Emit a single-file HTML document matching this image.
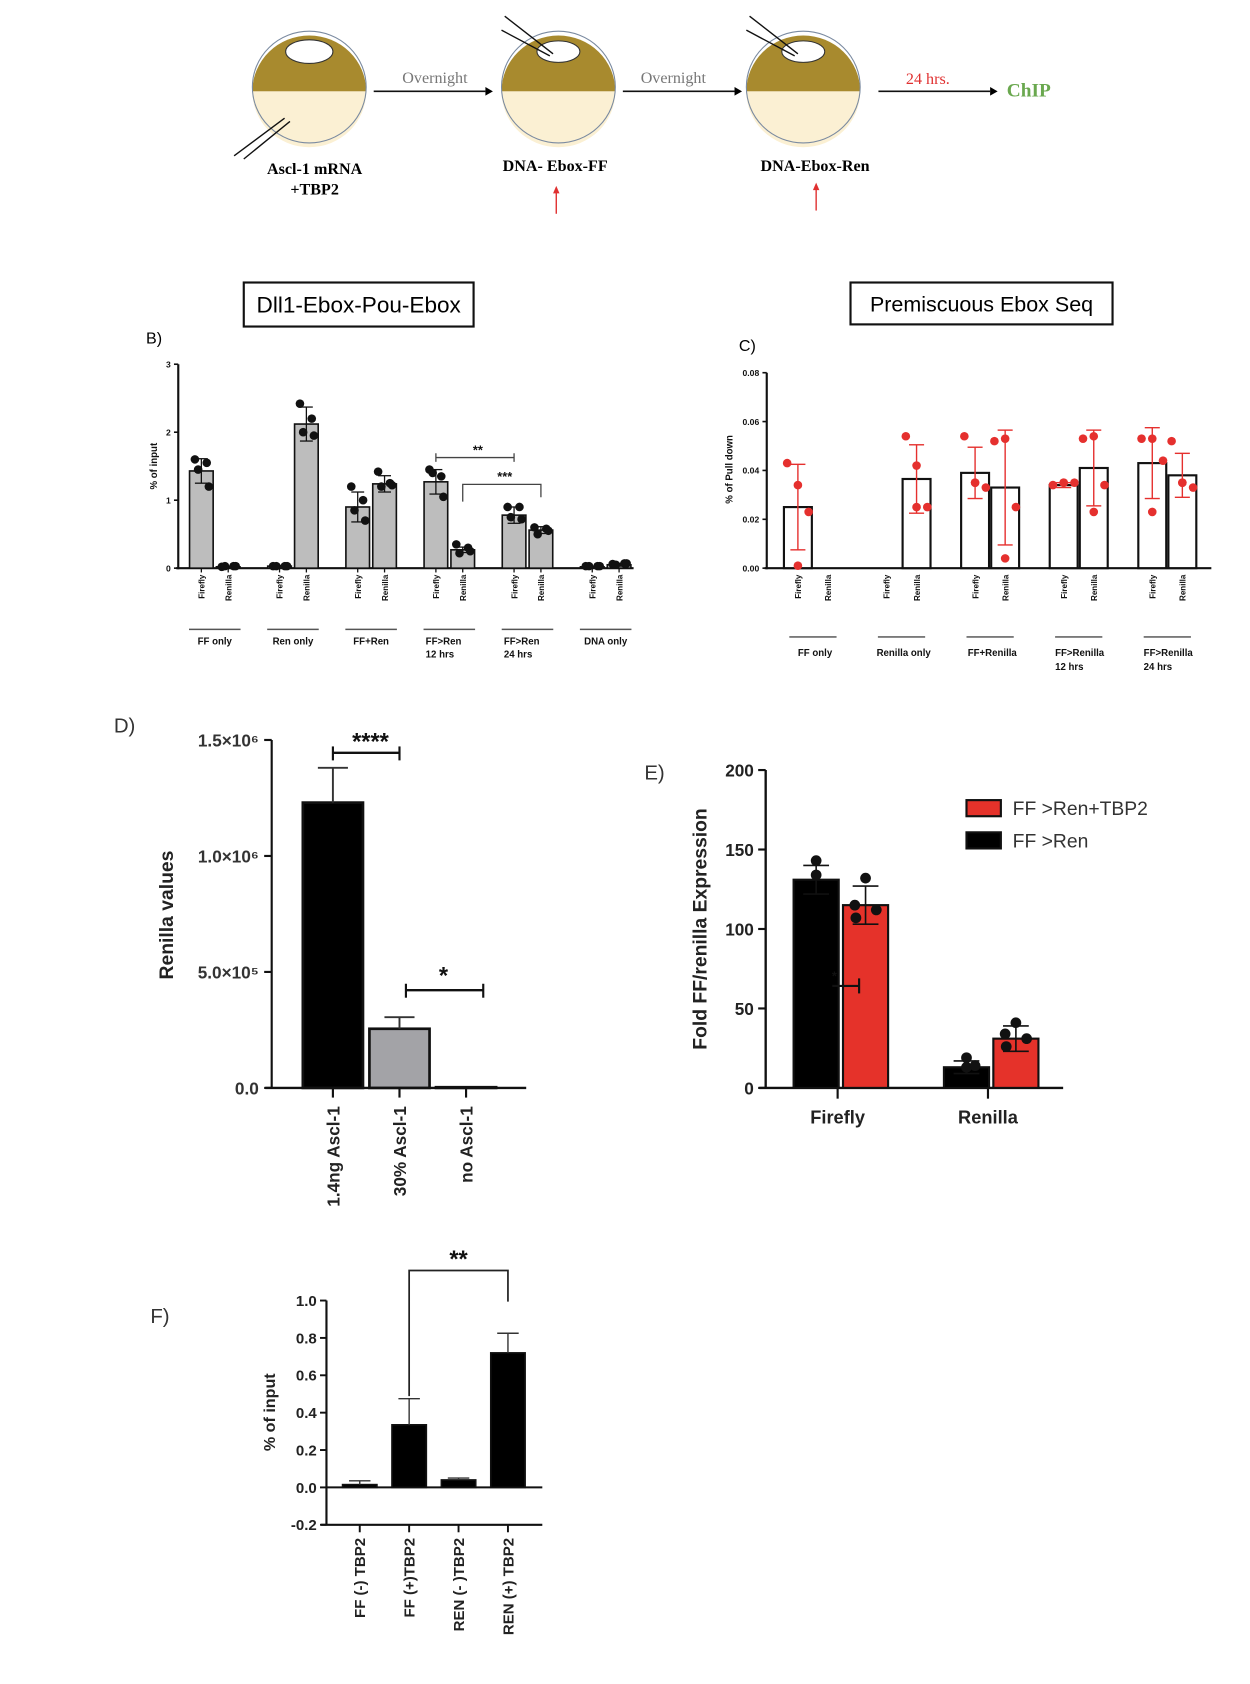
<!DOCTYPE html>
<html><head><meta charset="utf-8"><style>
html,body{margin:0;padding:0;background:#fff;}
svg{display:block;font-family:"Liberation Sans",sans-serif;}
</style></head><body>
<svg id="s" width="1250" height="1684" viewBox="0 0 1164 1568" xmlns="http://www.w3.org/2000/svg">
<g>
 <g>
  <path d="M235,85 A53,52 0 0 1 341,85 Z" fill="#a88a2e"/><path d="M235,85 A53,52 0 0 0 341,85 Z" fill="#fbf0d3"/>
  <ellipse cx="288" cy="81" rx="53" ry="52" fill="none" stroke="#7a8aa0" stroke-width="1"/>
  <ellipse cx="288" cy="48" rx="22" ry="11" fill="#fff" stroke="#333"/>
  <line x1="218" y1="145" x2="265" y2="110" stroke="#111" stroke-width="1.3"/><line x1="227" y1="148" x2="270" y2="113" stroke="#111" stroke-width="1.3"/>
 </g>
 <g>
  <path d="M467,85 A53,52 0 0 1 573,85 Z" fill="#a88a2e"/><path d="M467,85 A53,52 0 0 0 573,85 Z" fill="#fbf0d3"/>
  <ellipse cx="520" cy="81" rx="53" ry="52" fill="none" stroke="#7a8aa0"/>
  <ellipse cx="520" cy="48" rx="20" ry="10" fill="#fff" stroke="#333"/>
  <line x1="470" y1="15" x2="515" y2="50" stroke="#111" stroke-width="1.3"/><line x1="467" y1="28" x2="512" y2="52" stroke="#111" stroke-width="1.3"/>
 </g>
 <g>
  <path d="M695,85 A53,52 0 0 1 801,85 Z" fill="#a88a2e"/><path d="M695,85 A53,52 0 0 0 801,85 Z" fill="#fbf0d3"/>
  <ellipse cx="748" cy="81" rx="53" ry="52" fill="none" stroke="#7a8aa0"/>
  <ellipse cx="748" cy="48" rx="20" ry="10" fill="#fff" stroke="#333"/>
  <line x1="698" y1="15" x2="743" y2="50" stroke="#111" stroke-width="1.3"/><line x1="695" y1="28" x2="740" y2="52" stroke="#111" stroke-width="1.3"/>
 </g>
 <g font-family="Liberation Serif,serif">
  <line x1="348" y1="85" x2="452" y2="85" stroke="#111" stroke-width="1.5"/><path d="M452,81 L459,85 L452,89Z"/>
  <text x="405" y="77" text-anchor="middle" font-size="15" fill="#777">Overnight</text>
  <line x1="580" y1="85" x2="684" y2="85" stroke="#111" stroke-width="1.5"/><path d="M684,81 L691,85 L684,89Z"/>
  <text x="627" y="77" text-anchor="middle" font-size="15" fill="#777">Overnight</text>
  <line x1="818" y1="85" x2="922" y2="85" stroke="#111" stroke-width="1.5"/><path d="M922,81 L929,85 L922,89Z"/>
  <text x="864" y="78" text-anchor="middle" font-size="15" fill="#e03030">24 hrs.</text>
  <text x="958" y="90" text-anchor="middle" font-size="18" font-weight="bold" fill="#6aa84f">ChIP</text>
  <text x="293" y="162" text-anchor="middle" font-size="15" font-weight="bold">Ascl-1 mRNA</text>
  <text x="293" y="181" text-anchor="middle" font-size="15" font-weight="bold">+TBP2</text>
  <text x="517" y="159" text-anchor="middle" font-size="15" font-weight="bold">DNA- Ebox-FF</text>
  <text x="759" y="159" text-anchor="middle" font-size="15" font-weight="bold">DNA-Ebox-Ren</text>
  <line x1="518" y1="199" x2="518" y2="178" stroke="#e03030" stroke-width="1.3"/><path d="M515,180 L518,173 L521,180Z" fill="#e03030"/>
  <line x1="760" y1="196" x2="760" y2="175" stroke="#e03030" stroke-width="1.3"/><path d="M757,177 L760,170 L763,177Z" fill="#e03030"/>
 </g>
</g>
<rect x="227" y="263" width="214" height="41" fill="#fff" stroke="#111" stroke-width="2"/>
<text x="334" y="291" text-anchor="middle" font-size="21">Dll1-Ebox-Pou-Ebox</text>
<text x="136" y="320" font-size="15">B)</text>
<rect x="792" y="263" width="244" height="39" fill="#fff" stroke="#111" stroke-width="2"/>
<text x="914" y="290" text-anchor="middle" font-size="20">Premiscuous Ebox Seq</text>
<text x="688" y="327" font-size="15">C)</text>
<text x="106" y="682" font-size="19" fill="#333">D)</text>
<text x="600" y="726" font-size="19" fill="#333">E)</text>
<text x="140" y="1232" font-size="19" fill="#333">F)</text>
<g id="gb"></g>
<g id="gc"></g>
<g id="gd"></g>
<g id="ge"></g>
<g id="gf"></g>
</svg>
<script>
// ---- Chart B data ----
const bGroups = ["FF only","Ren only","FF+Ren","FF>Ren|12 hrs","FF>Ren|24 hrs","DNA only"];
const bFirefly = [1.43,0.03,0.90,1.27,0.78,0.02];
const bRenilla = [0.02,2.12,1.24,0.27,0.56,0.05];
const bFireflyErr = [0.18,0.01,0.22,0.18,0.12,0.01];
const bRenillaErr = [0.01,0.25,0.12,0.04,0.05,0.02];
const bFireflyDots = [[1.6,1.55,1.45,1.2],[0.03,0.03,0.03,0.03],[1.2,1.0,0.85,0.7],[1.45,1.35,1.4,1.05],[0.9,0.9,0.75,0.72],[0.03,0.03,0.03,0.03]];
const bRenillaDots = [[0.02,0.03,0.03,0.03],[2.42,2.2,2.0,1.95],[1.42,1.25,1.2,1.22],[0.35,0.3,0.22,0.25],[0.6,0.58,0.5,0.55],[0.06,0.07,0.05,0.07]];
const bTicks = [0,1,2,3];
// ---- Chart C data ----
const cGroups = ["FF only","Renilla only","FF+Renilla","FF>Renilla|12 hrs","FF>Renilla|24 hrs"];
const cFirefly = [0.025,null,0.039,0.034,0.043];
const cRenilla = [null,0.0365,0.033,0.041,0.038];
const cFireflyErr = [0.0175,0,0.0105,0.001,0.0145];
const cRenillaErr = [0,0.014,0.0235,0.0155,0.009];
const cFireflyDots = [[0.043,0.034,0.023,0.001],[],[0.054,0.035,0.033,0.035],[0.034,0.035,0.035,0.035],[0.053,0.053,0.044,0.023]];
const cRenillaDots = [[],[0.054,0.042,0.025,0.025],[0.052,0.053,0.025,0.004],[0.053,0.054,0.034,0.023],[0.052,0.035,0.033,0.035]];
const cTicks = [0,0.02,0.04,0.06,0.08];
// ---- Chart D data ----
const dCats = ["1.4ng Ascl-1","30% Ascl-1","no Ascl-1"];
const dVals = [1.23e6,0.255e6,0.003e6];
const dErr = [0.15e6,0.05e6,0];
const dTicks = [0,0.5e6,1.0e6,1.5e6];
const dTickLabels = ["0.0","5.0×10⁵","1.0×10⁶","1.5×10⁶"];
// ---- Chart E data ----
const eCats = ["Firefly","Renilla"];
const eFFRen = [131,13];
const eFFRenTBP2 = [115,31];
const eFFRenErr = [9,4];
const eTBP2Err = [12,8];
const eFFRenDots = [[143,134],[19,13,14]];
const eTBP2Dots = [[132,115,107,112],[41,34,26,31]];
const eTicks = [0,50,100,150,200];
// ---- Chart F data ----
const fCats = ["FF (-) TBP2","FF (+)TBP2","REN (- )TBP2","REN (+) TBP2"];
const fVals = [0.015,0.335,0.04,0.72];
const fErr = [0.02,0.14,0.01,0.105];
const fTicks = [-0.2,0,0.2,0.4,0.6,0.8,1.0];

const NS="http://www.w3.org/2000/svg";
function mk(parent,tag,attrs,txt){const e=document.createElementNS(NS,tag);for(const k in attrs)e.setAttribute(k,attrs[k]);if(txt!==undefined)e.textContent=txt;parent.appendChild(e);return e;}
function txt(p,x,y,s,size,opts){opts=opts||{};const e=mk(p,'text',{x:x,y:y,'font-size':size,'text-anchor':opts.anchor||'middle','font-weight':opts.bold?'bold':'normal',fill:opts.fill||'#111'},s);if(opts.rot!==undefined)e.setAttribute('transform','rotate('+opts.rot+' '+x+' '+y+')');return e;}
function line(p,x1,y1,x2,y2,w,c){return mk(p,'line',{x1:x1,y1:y1,x2:x2,y2:y2,stroke:c||'#111','stroke-width':w||1.5});}

// ===== B =====
(function(){
 const g=document.getElementById('gb');
 const X0=166,Y0=529,ppu=63.3,y=v=>Y0-v*ppu;
 const gx=i=>200+i*72.8;
 line(g,X0,y(3),X0,Y0+1,2);line(g,X0-2,Y0,590,Y0,2);
 bTicks.forEach(t=>{line(g,X0-4,y(t),X0,y(t),1.5);const e=txt(g,X0-7,y(t)+3,String(t),8,{anchor:'end',bold:true});});
 const yl=txt(g,146,434,'% of input',9,{bold:true,rot:-90});
 
 
 bGroups.forEach((name,i)=>{
  [[bFirefly,bFireflyErr,bFireflyDots,-12.5,'Firefly'],[bRenilla,bRenillaErr,bRenillaDots,12.5,'Renilla']].forEach(([vals,errs,dots,off,lab])=>{
   const cx=gx(i)+off,v=vals[i];
   const r=mk(g,'rect',{x:cx-11,y:y(v),width:22,height:Y0-y(v),fill:'#bdbdbd',stroke:'#111','stroke-width':1.5});
   
   
   line(g,cx,y(v+errs[i]),cx,y(v-errs[i]),1.2);line(g,cx-6,y(v+errs[i]),cx+6,y(v+errs[i]),1.2);line(g,cx-6,y(v-errs[i]),cx+6,y(v-errs[i]),1.2);
   const offs=[-6,5,-3,7];
   dots[i].forEach((d,k)=>{const c=mk(g,'circle',{cx:cx+offs[k],cy:y(d),r:4,fill:'#111'});});
   line(g,cx,Y0,cx,Y0+4,1.2);
   txt(g,cx+3,535,lab,7.5,{anchor:'end',bold:true,rot:-90});
  });
  line(g,gx(i)-24,586,gx(i)+24,586,1.5,'#555');
  const parts=name.split('|');
  parts.forEach((p,k)=>{const e=txt(g,gx(i)-(parts.length>1?22:0),600+k*12,p,9,{bold:true,anchor:parts.length>1?'start':'middle'});});
 });
 // significance
 line(g,gx(3)-12.5,426,gx(4)-12.5,426,1.2,'#444');line(g,gx(3)-12.5,422,gx(3)-12.5,430,1.2,'#444');line(g,gx(4)-12.5,422,gx(4)-12.5,430,1.2,'#444');
 txt(g,445,423,'**',12,{bold:true});
 mk(g,'polyline',{points:(gx(3)+12.5)+',467 '+(gx(3)+12.5)+',451 '+(gx(4)+12.5)+',451 '+(gx(4)+12.5)+',463',fill:'none',stroke:'#444','stroke-width':1.2});
 txt(g,470,448,'***',12,{bold:true});
})();

// ===== C =====
(function(){
 const g=document.getElementById('gc');
 const X0=714,Y0=529,ppu=45.5/0.02,y=v=>Y0-v*ppu;
 const gx=i=>757+i*82.5;
 line(g,X0,y(0.08),X0,Y0+1,2);line(g,X0-2,Y0,1128,Y0,2);
 cTicks.forEach(t=>{line(g,X0-4,y(t),X0,y(t),1.5);const e=txt(g,X0-7,y(t)+3,t.toFixed(2),8,{anchor:'end',bold:true});});
 const yl=txt(g,682,437,'% of Pull down',9,{bold:true,rot:-90});
 
 
 cGroups.forEach((name,i)=>{
  [[cFirefly,cFireflyErr,cFireflyDots,-14,'Firefly'],[cRenilla,cRenillaErr,cRenillaDots,14,'Renilla']].forEach(([vals,errs,dots,off,lab])=>{
   const cx=gx(i)+off,v=vals[i];
   if(v!==null){
    const r=mk(g,'rect',{x:cx-13,y:y(v),width:26,height:Y0-y(v),fill:'#fff',stroke:'#111','stroke-width':2});
    
    
    const red='#e5302e';
    line(g,cx,y(v+errs[i]),cx,y(v-errs[i]),1.3,red);line(g,cx-7,y(v+errs[i]),cx+7,y(v+errs[i]),1.3,red);line(g,cx-7,y(v-errs[i]),cx+7,y(v-errs[i]),1.3,red);
   }
   const offs=[-10,0,10,0];
   dots[i].forEach((d,k)=>{const c=mk(g,'circle',{cx:cx+(k==1?0:offs[k]),cy:y(d),r:4,fill:'#e5302e'});});
   txt(g,cx+3,535,lab,7.5,{anchor:'end',bold:true,rot:-90});
  });
  line(g,gx(i)-22,593,gx(i)+22,593,1.5,'#666');
  const parts=name.split('|');
  parts.forEach((p,k)=>{const e=txt(g,gx(i)-(parts.length>1?22:-2),611+k*13,p,9,{bold:true,anchor:parts.length>1?'start':'middle'});});
 });
})();

// ===== D =====
(function(){
 const g=document.getElementById('gd');
 const X0=253,Y0=1013,ppu=(1013-689)/1.5e6,y=v=>Y0-v*ppu;
 const gx=i=>310+i*62;
 line(g,X0,y(1.5e6),X0,Y0,2);line(g,X0-6,Y0,490,Y0,2.2);
 dTicks.forEach((t,k)=>{line(g,X0-7,y(t),X0,y(t),2);const e=txt(g,X0-12,y(t)+6,dTickLabels[k],16,{anchor:'end',bold:true,fill:'#333'});});
 const yl=txt(g,161,852,'Renilla values',18,{bold:true,rot:-90,fill:'#222'});
 
 
 const fills=['#000','#a3a3a7','#fff'];
 dCats.forEach((c,i)=>{
  const cx=gx(i),v=dVals[i];
  const r=mk(g,'rect',{x:cx-28,y:y(v),width:56,height:Y0-y(v),fill:fills[i],stroke:'#111','stroke-width':2.5});
  
  
  if(dErr[i]>0){line(g,cx,y(v),cx,y(v+dErr[i]),1.8,'#333');line(g,cx-14,y(v+dErr[i]),cx+14,y(v+dErr[i]),1.8,'#333');}
  line(g,cx,Y0,cx,Y0+9,2);
  const e=txt(g,cx+6,1030,c,16,{anchor:'end',bold:true,rot:-90,fill:'#222'});
  
  
 });
 line(g,gx(0),701,gx(1),701,2.2);line(g,gx(0),695,gx(0),708,2);line(g,gx(1),695,gx(1),708,2);
 txt(g,(gx(0)+gx(1))/2+4,698,'****',22,{bold:true});
 line(g,gx(1)+6,922,gx(2)+16,922,2.2);line(g,gx(1)+6,916,gx(1)+6,929,2);line(g,gx(2)+16,916,gx(2)+16,929,2);
 txt(g,413,916,'*',22,{bold:true});
})();

// ===== E =====
(function(){
 const g=document.getElementById('ge');
 const X0=713,Y0=1013,ppu=(1013-717)/200,y=v=>Y0-v*ppu;
 const gx=i=>783+i*140;
 line(g,X0,y(200),X0,Y0,2.2);line(g,X0-6,Y0,990,Y0,2.2);
 eTicks.forEach(t=>{line(g,X0-7,y(t),X0,y(t),2);const e=txt(g,X0-11,y(t)+6,String(t),16,{anchor:'end',bold:true,fill:'#222'});});
 const yl=txt(g,658,865,'Fold FF/renilla Expression',18,{bold:true,rot:-90,fill:'#222'});
 
 
 eCats.forEach((c,i)=>{
  [[eFFRen,eFFRenErr,eFFRenDots,-23,'#000'],[eFFRenTBP2,eTBP2Err,eTBP2Dots,23,'#e5322a']].forEach(([vals,errs,dots,off,col])=>{
   const cx=gx(i)+off,v=vals[i];
   const r=mk(g,'rect',{x:cx-21,y:y(v),width:42,height:Y0-y(v),fill:col,stroke:'#111','stroke-width':2});
   
   
   line(g,cx,y(v+errs[i]),cx,y(v-errs[i]),1.5);line(g,cx-12,y(v+errs[i]),cx+12,y(v+errs[i]),1.5);line(g,cx-12,y(v-errs[i]),cx+12,y(v-errs[i]),1.5);
   const offs=[0,0,-10,10];
   dots[i].forEach((d,k)=>{const cc=mk(g,'circle',{cx:cx+(dots[i].length===4?[0,-10,-9,10][k]:[0,0,8][k]),cy:y(d),r:5,fill:'#111'});});
  });
  line(g,gx(i)-3,Y0,gx(i)-3,Y0+10,2);
  const e=txt(g,gx(i)-3,1046,c,17,{bold:true,fill:'#222'});
  
  
 });
 line(g,775,918,800,918,2);line(g,800,911,800,925,2);txt(g,777,913,'*',12,{bold:true});
 const l1=mk(g,'rect',{x:900,y:745,width:32,height:15,fill:'#e5322a',stroke:'#111','stroke-width':2});
 
 
 const t1=txt(g,943,759,'FF >Ren+TBP2',18,{anchor:'start',fill:'#333'});
 
 
 const l2=mk(g,'rect',{x:900,y:775,width:32,height:15,fill:'#000',stroke:'#111','stroke-width':2});
 
 
 const t2=txt(g,943,789,'FF >Ren',18,{anchor:'start',fill:'#333'});
 
 
})();

// ===== F =====
(function(){
 const g=document.getElementById('gf');
 const X0=304,Y0=1385,ppu=174,y=v=>Y0-v*ppu;
 const gx=i=>335+i*46;
 line(g,X0,y(1.0),X0,y(-0.2),2);line(g,X0-5,y(-0.2),505,y(-0.2),2);line(g,X0,Y0,505,Y0,1.8);
 fTicks.forEach(t=>{line(g,X0-6,y(t),X0,y(t),1.8);const e=txt(g,X0-9,y(t)+5,t.toFixed(1),14,{anchor:'end',bold:true,fill:'#222'});});
 const yl=txt(g,256,1315,'% of input',15,{bold:true,rot:-90,fill:'#222'});
 
 
 fCats.forEach((c,i)=>{
  const cx=gx(i),v=fVals[i];
  const r=mk(g,'rect',{x:cx-16,y:y(v),width:32,height:Y0-y(v),fill:'#000',stroke:'#111','stroke-width':1.5});
  
  
  line(g,cx,y(v),cx,y(v+fErr[i]),1.3,'#333');line(g,cx-10,y(v+fErr[i]),cx+10,y(v+fErr[i]),1.3,'#333');
  line(g,cx,y(-0.2),cx,y(-0.2)+7,1.8);
  const e=txt(g,cx+5,1432,c,14,{anchor:'end',bold:true,rot:-90,fill:'#222'});
  
  
 });
 mk(g,'polyline',{points:gx(1)+',1300 '+gx(1)+',1183 '+gx(3)+',1183 '+gx(3)+',1212',fill:'none',stroke:'#222','stroke-width':1.6});
 txt(g,(gx(1)+gx(3))/2,1180,'**',22,{bold:true});
})();
</script>
</body></html>
